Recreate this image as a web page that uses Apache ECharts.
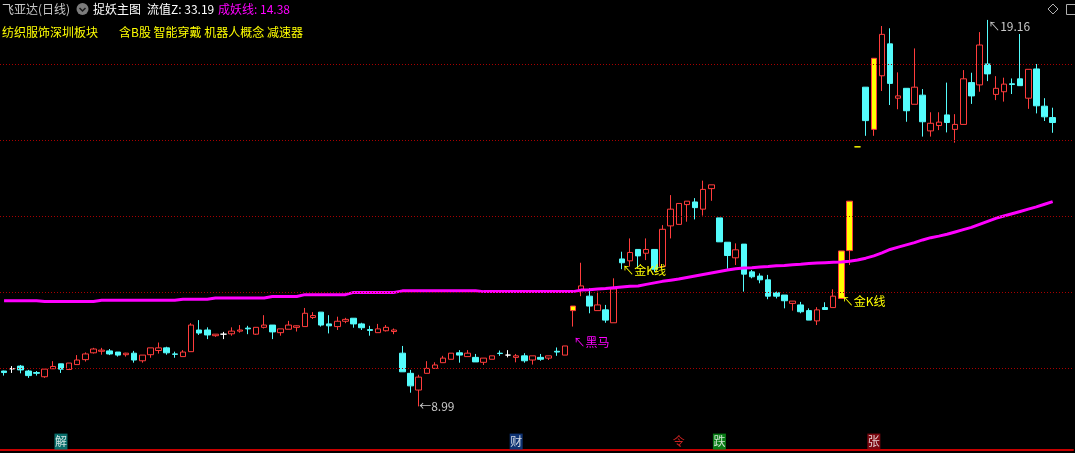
<!DOCTYPE html>
<html>
<head>
<meta charset="utf-8">
<script src="https://cdn.jsdelivr.net/npm/echarts@6/dist/echarts.min.js"></script>
<style>
html,body{margin:0;padding:0;background:#000;}
#main{width:1075px;height:453px;}
</style>
</head>
<body>
<div id="main"></div>
<script>
// 日K数据
const opens = [
  9.92, 9.98, 10.05, 9.92, 9.88, 9.77, 9.98, 10.11, 9.96, 10.09,
  10.22, 10.40, 10.44, 10.45, 10.42, 10.35, 10.39, 10.19, 10.35, 10.46,
  10.53, 10.37, 10.30, 10.43, 11.00, 11.00, 10.85, 10.89, 10.90, 10.97,
  11.05, 10.89, 11.07, 11.13, 10.93, 11.02, 11.07, 11.09, 11.33, 11.47,
  11.16, 11.09, 11.23, 11.31, 11.16, 11.01, 10.93, 10.98, 10.96, 10.39,
  9.86, 9.42, 9.86, 9.99, 10.14, 10.23, 10.40, 10.30, 10.28, 10.15,
  10.23, 10.39, 10.34, 10.28, 10.32, 10.21, 10.28, 10.26, 10.44, 10.34,
  11.51, 12.07, 11.89, 11.51, 11.53, 11.19, 12.87, 12.82, 13.12, 13.02,
  13.12, 12.67, 13.74, 13.78, 14.30, 14.37, 14.18, 14.72, 13.95, 13.31,
  12.90, 13.26, 12.53, 12.42, 12.32, 11.98, 11.92, 11.70, 11.66, 11.51,
  11.24, 11.59, 11.59, 11.83, 13.09, 15.82, 17.39, 16.28, 17.69, 18.53,
  17.10, 17.36, 16.94, 17.18, 16.24, 16.38, 16.66, 16.28, 16.41, 17.51,
  17.45, 18.00, 17.20, 17.27, 17.48, 17.61, 17.10, 17.87, 16.89, 16.59
];
const closes = [
  9.88, 9.98, 9.95, 9.80, 9.86, 9.97, 10.04, 9.97, 10.13, 10.21,
  10.37, 10.50, 10.47, 10.37, 10.34, 10.39, 10.21, 10.34, 10.53, 10.53,
  10.40, 10.36, 10.42, 11.13, 10.92, 10.87, 10.89, 10.89, 10.97, 11.00,
  11.03, 11.07, 11.13, 10.95, 11.03, 11.13, 11.11, 11.44, 11.38, 11.13,
  11.11, 11.23, 11.28, 11.16, 11.06, 10.99, 11.03, 11.07, 11.00, 9.90,
  9.53, 9.76, 9.99, 10.08, 10.26, 10.39, 10.34, 10.39, 10.16, 10.26,
  10.32, 10.38, 10.34, 10.32, 10.19, 10.32, 10.23, 10.32, 10.42, 10.58,
  11.63, 12.16, 11.63, 11.66, 11.26, 12.08, 12.77, 13.04, 12.95, 13.12,
  12.60, 13.65, 14.18, 14.33, 14.39, 14.22, 14.70, 14.82, 13.32, 12.96,
  13.11, 12.47, 12.40, 12.32, 11.89, 11.89, 11.77, 11.76, 11.48, 11.26,
  11.53, 11.54, 11.89, 13.08, 14.39, 15.82, 16.51, 18.15, 18.78, 17.49,
  17.16, 16.77, 17.39, 16.48, 16.44, 16.47, 16.46, 16.41, 17.61, 17.16,
  18.50, 17.74, 17.36, 17.47, 17.46, 17.43, 17.86, 16.90, 16.61, 16.46
];
const lows = [
  9.80, 9.87, 9.86, 9.74, 9.80, 9.74, 9.98, 9.87, 9.95, 10.09,
  10.17, 10.38, 10.35, 10.34, 10.30, 10.30, 10.14, 10.14, 10.27, 10.38,
  10.35, 10.27, 10.30, 10.43, 10.87, 10.76, 10.82, 10.76, 10.85, 10.93,
  10.89, 10.87, 11.04, 10.76, 10.85, 11.02, 10.96, 11.09, 11.29, 11.09,
  10.91, 11.00, 11.18, 11.06, 11.00, 10.85, 10.93, 10.96, 10.89, 9.90,
  9.35, 8.99, 9.86, 9.99, 10.14, 10.23, 10.14, 10.30, 10.16, 10.08,
  10.23, 10.32, 10.28, 10.15, 10.14, 10.09, 10.19, 10.21, 10.32, 10.34,
  11.09, 11.89, 11.44, 11.51, 11.19, 11.19, 12.60, 12.67, 12.62, 12.84,
  12.53, 12.67, 13.41, 13.78, 13.85, 13.91, 14.01, 14.40, 13.32, 12.61,
  12.71, 12.01, 12.36, 12.23, 11.81, 11.83, 11.57, 11.51, 11.44, 11.26,
  11.13, 11.54, 11.59, 11.83, 12.71, 15.82, 16.11, 16.11, 17.29, 16.92,
  16.81, 16.48, 16.94, 16.09, 16.09, 16.26, 16.20, 15.93, 16.41, 16.95,
  17.27, 17.55, 17.05, 17.01, 17.21, 17.43, 16.82, 16.70, 16.50, 16.19
];
const highs = [
  9.93, 10.05, 10.08, 9.95, 9.92, 9.97, 10.18, 10.11, 10.13, 10.34,
  10.41, 10.53, 10.53, 10.50, 10.42, 10.40, 10.45, 10.34, 10.53, 10.67,
  10.56, 10.43, 10.47, 11.18, 11.26, 11.07, 10.89, 10.95, 11.07, 11.13,
  11.11, 11.07, 11.39, 11.13, 11.03, 11.24, 11.12, 11.58, 11.47, 11.47,
  11.39, 11.35, 11.32, 11.31, 11.19, 11.11, 11.16, 11.13, 11.04, 10.58,
  9.95, 9.82, 10.18, 10.15, 10.32, 10.39, 10.47, 10.47, 10.37, 10.26,
  10.32, 10.46, 10.47, 10.37, 10.39, 10.32, 10.37, 10.32, 10.54, 10.58,
  11.63, 12.77, 12.10, 12.01, 11.66, 12.36, 13.06, 13.41, 13.12, 13.41,
  13.12, 13.76, 14.55, 14.33, 14.39, 14.47, 14.93, 14.82, 13.95, 13.31,
  13.28, 13.26, 12.58, 12.49, 12.45, 12.01, 11.92, 11.76, 11.74, 11.57,
  11.60, 11.73, 12.07, 13.08, 14.39, 15.82, 17.39, 18.15, 19.00, 18.94,
  17.78, 17.36, 18.41, 17.34, 16.73, 16.73, 17.51, 16.68, 17.84, 17.77,
  18.84, 19.16, 17.68, 17.64, 17.62, 18.79, 17.86, 18.00, 17.10, 16.85
];
// 成妖线
const yaoLine = [
  11.77, 11.77, 11.77, 11.77, 11.77, 11.75, 11.75, 11.75, 11.75, 11.75,
  11.75, 11.75, 11.78, 11.78, 11.78, 11.78, 11.78, 11.78, 11.78, 11.78,
  11.78, 11.78, 11.81, 11.81, 11.81, 11.81, 11.84, 11.84, 11.84, 11.84,
  11.84, 11.84, 11.84, 11.88, 11.88, 11.88, 11.88, 11.93, 11.93, 11.93,
  11.93, 11.93, 11.93, 11.99, 11.99, 11.99, 11.99, 11.99, 11.99, 12.03,
  12.03, 12.03, 12.03, 12.03, 12.03, 12.03, 12.03, 12.03, 12.03, 12.01,
  12.01, 12.01, 12.01, 12.01, 12.01, 12.01, 12.01, 12.01, 12.01, 12.01,
  12.01, 12.05, 12.06, 12.08, 12.09, 12.11, 12.13, 12.15, 12.16, 12.20,
  12.24, 12.28, 12.31, 12.34, 12.38, 12.42, 12.46, 12.50, 12.54, 12.58,
  12.61, 12.63, 12.64, 12.66, 12.67, 12.69, 12.70, 12.72, 12.73, 12.75,
  12.76, 12.77, 12.78, 12.79, 12.81, 12.84, 12.89, 12.95, 13.03, 13.12,
  13.18, 13.24, 13.30, 13.37, 13.43, 13.47, 13.52, 13.58, 13.64, 13.70,
  13.78, 13.86, 13.94, 14.00, 14.06, 14.12, 14.18, 14.24, 14.31, 14.38
];
const gridLevels = [10, 12, 14, 16, 18];
const yellowDays = [71, 104, 105, 106, 108];   // 涨停
const whiteDays = [2, 28, 63];                 // 平盘十字
const signals = [
  { day: 8, text: '解', bg: '#0b8a86', fg: '#ffffff' },
  { day: 64, text: '财', bg: '#123f8f', fg: '#ffffff' },
  { day: 84, text: '令', bg: 'rgba(0,0,0,0)', fg: '#ff2a2a' },
  { day: 89, text: '跌', bg: '#0a9a1a', fg: '#ffffff' },
  { day: 108, text: '张', bg: '#9a0a14', fg: '#ffffff' }
];
const notes = [
  { day: 77, value: 12.58, text: '↖金K线', color: '#ffff00' },
  { day: 104, value: 11.74, text: '↖金K线', color: '#ffff00' },
  { day: 71, value: 10.66, text: '↖黑马', color: '#ff00ff' },
  { day: 52, value: 8.99, text: '←8.99', color: '#c8c8c8' },
  { day: 122, value: 19.0, text: '↖19.16', color: '#c8c8c8' }
];

const dayCount = 132;
const categories = [];
for (let i = 1; i <= dayCount; i++) categories.push(String(i));

const FONT = '"Noto Sans CJK SC", sans-serif';
const RED = '#ff3c3c';
const CYAN = '#54fcfc';

const kData = opens.map((o, i) => {
  const day = i + 1;
  const item = { value: [o, closes[i], lows[i], highs[i]] };
  if (yellowDays.includes(day)) {
    const bd = highs[i] === lows[i] ? '#ffff00' : RED;
    item.itemStyle = { color: '#ffff00', color0: '#ffff00', borderColor: bd, borderColor0: bd };
  } else if (whiteDays.includes(day)) {
    item.itemStyle = { color: '#ffffff', color0: '#ffffff', borderColor: '#ffffff', borderColor0: '#ffffff' };
  }
  return item;
});

const chart = echarts.init(document.getElementById('main'), null, { renderer: 'canvas' });

const option = {
  animation: false,
  backgroundColor: '#000',
  textStyle: { fontFamily: FONT },
  grid: [
    { left: 0, right: 2, top: 7, bottom: 28 },
    { left: 0, right: 2, top: 438, height: 12 }
  ],
  xAxis: [
    { type: 'category', data: categories, gridIndex: 0, show: false },
    {
      type: 'category', data: categories, gridIndex: 1,
      axisLine: { show: true, lineStyle: { color: '#c80000', width: 2 } },
      axisTick: { show: false }, axisLabel: { show: false }, splitLine: { show: false }
    }
  ],
  yAxis: [
    { type: 'value', gridIndex: 0, min: 8.5, max: 19.5, show: false, splitLine: { show: false } },
    { type: 'value', gridIndex: 1, min: 0, max: 1, show: false, splitLine: { show: false } }
  ],
  graphic: [
    { type: 'text', x: 2, y: 9, style: { text: '飞亚达(日线)', fill: '#c8c8c8', font: '12px ' + FONT, verticalAlign: 'middle' } },
    { type: 'circle', shape: { cx: 82.5, cy: 9, r: 6 }, style: { fill: '#7c7c7c' } },
    { type: 'polyline', shape: { points: [[79.5, 8], [82.5, 11], [85.5, 8]] }, style: { stroke: '#1a1a1a', lineWidth: 1.5, fill: null } },
    { type: 'text', x: 93, y: 9, style: { text: '捉妖主图', fill: '#ffffff', font: '12px ' + FONT, verticalAlign: 'middle' } },
    { type: 'text', x: 147, y: 9, style: { text: '流值Z: 33.19', fill: '#ffffff', font: '12px ' + FONT, verticalAlign: 'middle' } },
    { type: 'text', x: 218, y: 9, style: { text: '成妖线: 14.38', fill: '#ff00ff', font: '12px ' + FONT, verticalAlign: 'middle' } },
    { type: 'text', x: 2, y: 32, style: { text: '纺织服饰深圳板块', fill: '#ffff00', font: '12px ' + FONT, verticalAlign: 'middle' } },
    { type: 'text', x: 119, y: 32, style: { text: '含B股 智能穿戴 机器人概念 减速器', fill: '#ffff00', font: '12px ' + FONT, verticalAlign: 'middle' } },
    { type: 'polygon', shape: { points: [[1053, 4], [1058, 9], [1053, 14], [1048, 9]] }, style: { stroke: '#b0b0b0', fill: null, lineWidth: 1 } },
    { type: 'rect', shape: { x: 1066.5, y: 4.5, width: 9, height: 10 }, style: { stroke: '#b0b0b0', fill: null, lineWidth: 1 } }
  ],
  series: [
    {
      name: 'K线',
      type: 'candlestick',
      xAxisIndex: 0,
      yAxisIndex: 0,
      barWidth: 6,
      data: kData,
      itemStyle: {
        color: '#000000',
        color0: CYAN,
        borderColor: RED,
        borderColor0: CYAN,
        borderWidth: 1
      },
      markLine: {
        silent: true,
        symbol: ['none', 'none'],
        label: { show: false },
        lineStyle: { color: '#a80000', type: [1, 2], width: 1 },
        data: gridLevels.map(v => ({ yAxis: v }))
      },
      markPoint: {
        symbol: 'circle',
        symbolSize: 1,
        itemStyle: { color: 'rgba(0,0,0,0)' },
        data: notes.map(n => ({
          coord: [n.day - 1, n.value],
          label: {
            show: true, position: 'right', distance: 0,
            formatter: n.text, color: n.color, fontSize: 12, fontFamily: FONT
          }
        }))
      }
    },
    {
      name: '成妖线',
      type: 'line',
      xAxisIndex: 0,
      yAxisIndex: 0,
      data: yaoLine,
      symbol: 'none',
      lineStyle: { color: '#ff00ff', width: 3 }
    },
    {
      name: '信号',
      type: 'scatter',
      xAxisIndex: 1,
      yAxisIndex: 1,
      symbol: 'rect',
      symbolSize: [13, 16],
      data: signals.map(s => ({
        value: [s.day - 1, 0.7],
        itemStyle: { color: s.bg },
        label: { show: true, position: 'inside', formatter: s.text, color: s.fg, fontSize: 12, fontFamily: FONT }
      }))
    }
  ]
};

chart.setOption(option);
</script>
</body>
</html>
